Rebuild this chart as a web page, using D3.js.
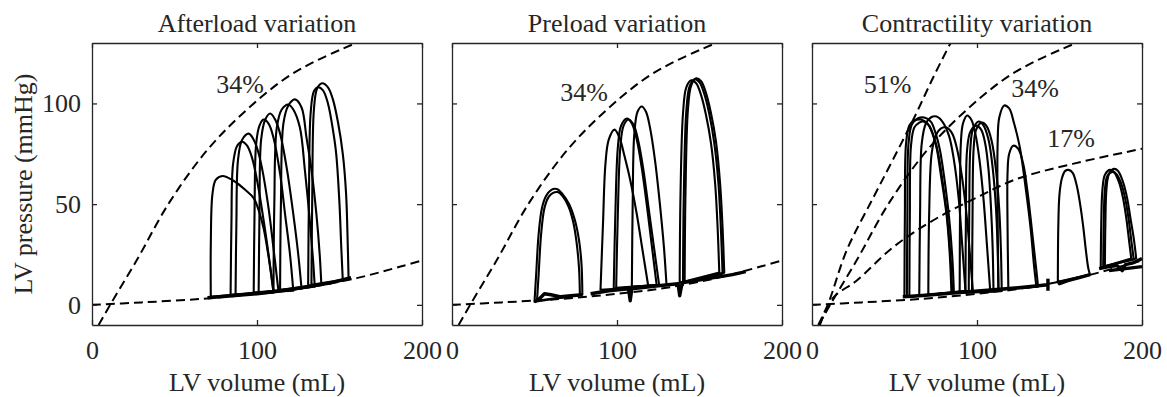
<!DOCTYPE html>
<html>
<head>
<meta charset="utf-8">
<script src="https://cdn.jsdelivr.net/npm/d3@7"></script>
<style>
  body { margin: 0; background: #fff; }
  svg { display: block; font-family: 'Liberation Serif', 'Times New Roman', serif; }
  .axis .domain, .axis line { stroke: #262626; stroke-width: 1.3; }
  .axis text, .title, .axis-label, .note { fill: #262626; font-size: 26px; font-family: 'Liberation Serif', 'Times New Roman', serif; }
  .loop { fill: none; stroke: #000; stroke-width: 2.1; stroke-linejoin: round; }
  .band { fill: none; stroke: #000; stroke-width: 3.4; stroke-linejoin: round; }
  .pvr { fill: none; stroke: #000; stroke-width: 2; stroke-dasharray: 9 5; }
</style>
</head>
<body>
<svg id="chart" width="1167" height="397"></svg>
<script>
// ------------------------------------------
//  Data (volume mL / pressure mmHg)
// ------------------------------------------
const titles = ['Afterload variation', 'Preload variation', 'Contractility variation']
const xTicks = [0, 100, 200]
const yTicks = [0, 50, 100]

const espvr34 = [[4, -10], [11, 0], [27, 22], [47, 51], [70, 77], [94, 97], [122, 115], [160, 130], [170, 133]]
const espvr51 = [[3.8, -10], [10, 1], [21, 27], [37, 53], [49, 72], [62, 93], [73.5, 113], [84, 130], [88, 136]]
const espvr17 = [[4.8, -10], [12.9, 3.6], [27, 12], [49, 28.5], [73.5, 42], [104, 55], [124, 62.5], [158, 70], [200, 77.5]]
const edpvr = [[0, 0], [30, 1.2], [67, 3], [100, 5.5], [130, 8.5], [161, 13.4], [187, 19], [200, 22]]

const afterloadLoops = [
  [[72, 4], [72, 30], [73, 55], [75, 62], [79, 64], [86, 61.5], [93, 57], [98, 53], [101, 47], [104, 38], [107, 24], [110, 7]],
  [[84, 5], [84.5, 40], [85.5, 70], [88, 79], [91, 81], [94, 79], [97, 73], [100, 62], [104, 42], [107, 25], [110, 6]],
  [[87, 5], [87.5, 40], [88.5, 72], [91, 82], [95, 85], [98, 82], [100, 78], [103, 68], [107, 48], [110, 28], [113, 7]],
  [[98, 6], [98.5, 45], [99.5, 80], [101.5, 89], [104, 92], [107, 90], [110, 83], [114, 65], [117, 45], [120, 25], [122, 7]],
  [[101, 6], [101.5, 45], [102.5, 82], [105, 92], [108, 95], [111, 92], [114, 85], [118, 68], [122, 45], [125, 25], [127, 8]],
  [[110, 7], [110.5, 50], [112, 88], [115, 97], [119, 99.5], [122, 97], [126, 88], [129, 67], [132, 42], [134, 22], [135, 9]],
  [[114, 7.5], [114.5, 50], [116, 90], [119, 99], [123, 102], [127, 98], [130, 83], [133, 67], [136, 45], [138, 25], [139, 10]],
  [[131, 9.5], [131.5, 55], [132.5, 95], [134.5, 106], [137, 108], [140, 106.5], [143, 100], [146, 87], [148, 75], [150, 50], [151, 30], [152, 12]],
  [[133, 10], [133.5, 55], [134.5, 97], [136.5, 107.5], [139.5, 110], [143, 108], [146, 102], [149, 91], [152, 75], [154, 55], [155, 30], [155.5, 13]]
]
const afterloadBands = [
  [[70, 3.5], [85, 4.5], [100, 5.5], [115, 7], [130, 9], [145, 11], [157, 13.5]]
]

const preloadLoops = [
  [[50, 1.5], [51, 15], [52.5, 35], [54.5, 48], [57, 54], [60, 57], [63.5, 57.5], [67, 55], [71, 50], [74.5, 42], [77, 32], [78.5, 20], [79, 5]],
  [[51.5, 2], [52.5, 15], [54, 35], [56, 48], [58.5, 53.5], [61, 55.5], [64, 56], [67, 54], [70.5, 49], [73.5, 41], [75.5, 31], [77, 18], [77.5, 5]],
  [[90, 7.5], [91.5, 40], [93, 70], [95, 82], [98.5, 87], [101.5, 83], [104.5, 74], [108, 62], [112, 45], [115.5, 27], [119, 9]],
  [[98, 8], [99, 45], [100.5, 78], [102.5, 89], [106, 92.5], [109, 90], [112, 82], [115, 68], [118, 50], [121, 30], [124, 10]],
  [[99.5, 8.5], [100.5, 45], [102, 78], [104, 89], [107, 92], [110, 89.5], [113, 81], [116, 67], [119, 49], [122.5, 28], [125.5, 10]],
  [[109, 9], [109.5, 50], [110.5, 85], [112.5, 96], [115, 98.5], [117.5, 96], [120, 88], [123, 72], [126, 50], [128.5, 28], [130, 10]],
  [[138, 11], [138.5, 55], [140, 95], [142, 108], [145, 111.5], [148, 110], [151, 104], [154, 94], [157, 80], [159.5, 60], [161, 38], [162, 16]],
  [[140, 11], [140.5, 55], [142, 96], [144, 108.5], [147, 112], [150, 110.5], [153, 104.5], [156, 94.5], [159, 80], [161.5, 60], [163, 37], [164, 15.5]],
  [[141, 11.5], [141.5, 55], [143, 97], [145, 109], [148, 112.5], [151, 111], [154, 105], [157, 95], [160, 81], [162.5, 60], [164, 38], [165, 16]]
]
const preloadBands = [
  [[50, 1.5], [53, 3], [56, 5.5], [60, 5], [66, 4], [72, 4.5], [79, 5]],
  [[84, 5.5], [95, 7], [107, 8], [108, 2], [109, 8], [125, 9.5], [137, 10.5], [138, 4.5], [139.5, 11], [155, 13], [170, 15], [178, 16.5]]
]

const contractilityLoops = [
  [[56, 4], [56.3, 45], [57, 80], [59, 89], [62, 91.5], [66, 92], [70, 90], [73, 85], [75.5, 78], [78, 65], [81.5, 45], [83.5, 25], [84.5, 6]],
  [[57.5, 4], [57.8, 45], [58.5, 80], [60.5, 89.5], [64, 92.5], [68, 93], [72, 91], [75, 85], [77.5, 77], [80, 64], [83, 44], [85, 24], [86, 6]],
  [[59, 4], [59.3, 45], [60, 79], [62, 88], [65, 90.5], [67.5, 91], [71, 89], [74, 83], [76.5, 75], [79, 62], [82, 43], [84, 23], [85, 6]],
  [[65, 4.5], [65.5, 45], [66.5, 80], [69, 90], [72, 93], [75.5, 93.5], [79, 91], [83, 84], [86, 72], [89, 52], [91, 30], [93, 7]],
  [[70.5, 5], [71, 45], [72.5, 75], [75, 84], [78, 87.5], [81.5, 88], [85, 85], [88, 77], [91, 63], [94, 42], [96, 22], [97.5, 7]],
  [[89.5, 6], [89.7, 45], [90.2, 80], [91.5, 90], [94, 94], [96.5, 92], [99, 85], [101.5, 72], [104, 52], [106, 30], [108, 7]],
  [[93, 6], [93.3, 45], [94, 77], [96, 86], [99.5, 89], [102.5, 87], [105, 80], [107, 67], [108.5, 48], [109.5, 28], [110, 6.5]],
  [[95, 6.5], [95.3, 45], [96, 78], [97.5, 87], [101, 91], [104, 89], [107, 82], [109.5, 68], [111.5, 48], [112.5, 28], [113, 7]],
  [[97, 6.5], [97.3, 45], [98, 78], [99.5, 87], [103, 90.5], [106, 88.5], [109, 81], [111.5, 67], [113.5, 47], [114.5, 27], [115, 7]],
  [[113, 7.5], [112.5, 45], [112.5, 80], [113.5, 93], [116.5, 99], [119.5, 97.5], [122.5, 90], [126, 78], [129.5, 58], [132.5, 38], [134.5, 20], [136, 9]],
  [[119, 8], [118.5, 40], [118.5, 65], [119.5, 75], [122, 79], [125, 77.5], [128, 70], [130.5, 57], [132.5, 43], [134.5, 28], [136, 17], [137, 9]],
  [[149, 11.5], [149.3, 40], [150, 55], [151.5, 63], [153.5, 66.5], [155.5, 67], [158, 65.5], [160.5, 59], [162.5, 50], [164.5, 38], [166, 27], [167.5, 18], [168.5, 15]],
  [[175, 18.5], [175.3, 40], [176, 57], [177.5, 64.5], [180.5, 67], [183, 66], [186, 61], [188.5, 53], [190.5, 43], [192, 33], [193.5, 23]],
  [[176.5, 19], [176.8, 40], [177.5, 57], [179, 64], [182, 66], [184.5, 65], [187.5, 60], [190, 52], [192, 42], [193.5, 32], [195, 22.5]],
  [[177.5, 19], [177.8, 40], [178.5, 58], [180, 65], [183, 67.5], [185.5, 66.5], [188.5, 61], [191, 53], [193, 43], [195, 33], [196.5, 23]]
]
const contractilityBands = [
  [[55, 4], [65, 4.5], [80, 5.5], [95, 6.5], [110, 7.5], [125, 8.5], [143, 10]],
  [[143, 7], [143, 13]],
  [[149, 12], [150, 10.5], [155, 12], [162, 13.5], [168.5, 15]],
  [[174, 18], [180, 19], [185, 19.5], [188, 17], [190, 20], [195, 21], [200, 23]],
  [[180, 17], [190, 18], [200, 19]]
]

// label, volume, pressure (baseline)
const afterloadNotes = [['34%', 89.7, 105]]
const preloadNotes = [['34%', 80, 101.2]]
const contractilityNotes = [['51%', 45.8, 105.1], ['34%', 135.2, 103.1], ['17%', 157, 78.3]]

// ------------------------------------------
//  Layout
// ------------------------------------------
const svg = d3.select('#chart')
const plotW = 330, plotH = 282, plotTop = 43
const lefts = [92, 452, 812]

const panels = [
  { title: titles[0], loops: afterloadLoops, bands: afterloadBands, espvr: [espvr34], notes: afterloadNotes, yLabels: true },
  { title: titles[1], loops: preloadLoops, bands: preloadBands, espvr: [espvr34], notes: preloadNotes, yLabels: false },
  { title: titles[2], loops: contractilityLoops, bands: contractilityBands, espvr: [espvr51, espvr34, espvr17], notes: contractilityNotes, yLabels: false }
]

const x = d3.scaleLinear().domain([0, 200]).range([0, plotW])
const y = d3.scaleLinear().domain([-10, 130]).range([plotH, 0])

const smooth = d3.line().x(d => x(d[0])).y(d => y(d[1])).curve(d3.curveCatmullRom.alpha(0.5))
const straight = d3.line().x(d => x(d[0])).y(d => y(d[1]))

panels.forEach((p, i) => {
  const g = svg.append('g').attr('transform', `translate(${lefts[i]},${plotTop})`)

  g.append('clipPath').attr('id', `clip${i}`)
    .append('rect').attr('width', plotW).attr('height', plotH)

  const plot = g.append('g').attr('clip-path', `url(#clip${i})`)

  plot.append('path').attr('class', 'pvr').attr('d', smooth(edpvr))
  p.espvr.forEach(curve => plot.append('path').attr('class', 'pvr').attr('d', smooth(curve)))

  p.bands.forEach(b => plot.append('path').attr('class', 'band').attr('d', straight(b)))
  p.loops.forEach(l => plot.append('path').attr('class', 'loop').attr('d', smooth(l) + 'Z'))

  // box with inward ticks
  g.append('g').attr('class', 'axis')
    .attr('transform', `translate(0,${plotH})`)
    .call(d3.axisBottom(x).tickValues(xTicks).tickSizeInner(-5).tickSizeOuter(0).tickPadding(15.5))
  g.append('g').attr('class', 'axis')
    .call(d3.axisTop(x).tickValues(xTicks).tickSizeInner(-5).tickSizeOuter(0).tickFormat(''))
  g.append('g').attr('class', 'axis')
    .call(d3.axisLeft(y).tickValues(yTicks).tickSizeInner(-5).tickSizeOuter(0).tickPadding(11)
      .tickFormat(p.yLabels ? d3.format('d') : ''))
  g.append('g').attr('class', 'axis')
    .attr('transform', `translate(${plotW},0)`)
    .call(d3.axisRight(y).tickValues(yTicks).tickSizeInner(-5).tickSizeOuter(0).tickFormat(''))

  p.notes.forEach(n => {
    g.append('text').attr('class', 'note')
      .attr('x', x(n[1])).attr('y', y(n[2]))
      .attr('text-anchor', 'middle')
      .text(n[0])
  })

  g.append('text').attr('class', 'title')
    .attr('x', plotW / 2).attr('y', 32 - plotTop)
    .attr('text-anchor', 'middle')
    .text(p.title)

  g.append('text').attr('class', 'axis-label')
    .attr('x', plotW / 2).attr('y', 391 - plotTop)
    .attr('text-anchor', 'middle')
    .text('LV volume (mL)')
})

svg.append('text').attr('class', 'axis-label')
  .attr('transform', `translate(32,${plotTop + plotH / 2}) rotate(-90)`)
  .attr('text-anchor', 'middle')
  .text('LV pressure (mmHg)')
</script>
</body>
</html>
